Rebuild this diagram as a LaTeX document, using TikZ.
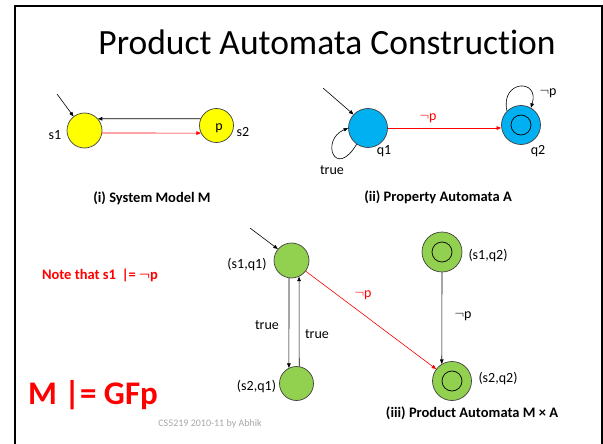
\documentclass[tikz,border=0pt]{standalone}
\usepackage{fontspec}
\setmainfont[Ligatures=NoCommon]{Carlito}
\usetikzlibrary{arrows.meta}
\definecolor{stateyellow}{HTML}{FFFF00}
\definecolor{stateblue}{HTML}{00B0F0}
\definecolor{stategreen}{HTML}{92D050}
\definecolor{edgered}{HTML}{FF0000}
\definecolor{footgray}{HTML}{A6A6A6}
\tikzset{
  x=1pt, y=-1pt,
  state/.style={circle, draw=black!75, line width=0.7pt, inner sep=0pt, minimum size=#1},
  tip/.style={-{Triangle[length=4.5pt,width=3.6pt]}, line width=0.6pt},
  lbl/.style={font=\fontsize{14}{16}\selectfont, inner sep=0pt},
  captext/.style={font=\bfseries\boldmath\fontsize{14.5}{16}\selectfont, inner sep=0pt},
}
\newcommand{\negp}{$\neg$p}
\newcommand{\innerring}[1]{\draw[black, line width=0.7pt] (#1) circle[radius=10];}
\begin{document}
\begin{tikzpicture}
\useasboundingbox (0,0) rectangle (603,444);
% slide frame (open at the bottom)
\draw[line width=2pt] (14.5,460) -- (14.5,6) -- (601.5,6) -- (601.5,460);
\node[font=\fontsize{35.5}{40}\selectfont, inner sep=0pt] (title) at (327,42) {Product Automata Construction};

% (i) system model
\node[state=35pt, fill=stateyellow] (s1) at (84.5,130.5) {};
\node[state=34pt, fill=stateyellow] (s2) at (216.5,125.5) {};
\node[lbl] (s1l) at (55,135) {s1};
\node[lbl] (pl) at (219,128) {p};
\node[lbl] (s2l) at (243,132) {s2};
\coordinate (s1in) at (57,94);
\draw[tip] (s1in) -- (s1.128);
\draw[tip] (s2.157) -- (s1.41);
\draw[tip, edgered] (s1.-8) -- (s2.206);
\node[captext] (capi) at (152,198) {(i) System Model M};

% (ii) property automaton
\node[state=39pt, fill=stateblue] (q1) at (368,128) {};
\node[state=39pt, fill=stateblue] (q2) at (521,125) {};
\innerring{q2}
\node[lbl] (q1l) at (384,151) {q1};
\node[lbl] (q2l) at (538,151) {q2};
\coordinate (q1in) at (323,88);
\draw[tip] (q1in) -- (q1.137);
\draw[tip] (q1.235) .. controls (335,180) and (320,140) .. (q1.180);
\node[lbl] (truel) at (332,170) {true};
\draw[tip, edgered] (q1.east) -- (q1.east -| q2.west);
\node[lbl, text=edgered] (npa) at (428,118) {\negp};
\draw[tip] (q2.135) .. controls (500,80) and (540,78) .. (q2.60);
\node[lbl] (npb) at (548,93) {\negp};
\node[captext] (capii) at (438,197) {(ii) Property Automata A};

% (iii) product automaton
\node[state=35pt, fill=stategreen] (a) at (291.5,260.5) {};
\node[state=34pt, fill=stategreen] (b) at (296.5,383.5) {};
\node[state=40pt, fill=stategreen] (c) at (442,252) {};
\node[state=39pt, fill=stategreen] (d) at (452,381) {};
\innerring{c}
\innerring{d}
\node[lbl] (al) at (247,265) {(s1,q1)};
\node[lbl] (bl) at (256.5,387) {(s2,q1)};
\node[lbl] (cl) at (488,256) {(s1,q2)};
\node[lbl] (dl) at (498,379) {(s2,q2)};
\coordinate (ain) at (250,228);
\draw[tip] (ain) -- (a.140);
\draw[tip] (a.-98) -- (b.116);
\draw[tip] (b.81) -- (a.-65);
\node[lbl] (t1) at (267,325) {true};
\node[lbl] (t2) at (317,334) {true};
\draw[tip, edgered] (a) -- (d);
\node[lbl, text=edgered] (npc) at (363,295) {\negp};
\draw[tip] (c.south) -- (d.121);
\node[lbl] (npd) at (463,316) {\negp};
\node[captext] (capiii) at (472,413) {(iii) Product Automata M × A};

% notes
\node[captext, text=edgered] (note) at (100,275) {Note that s1 \,|= \negp};
\node[font=\bfseries\fontsize{33}{36}\selectfont, text=edgered, inner sep=0pt] (claim) at (93,395) {M |= GFp};
\node[font=\fontsize{10}{12}\selectfont, text=footgray, inner sep=0pt] (foot) at (210,424) {CS5219 2010-11 by Abhik};
\end{tikzpicture}
\end{document}
